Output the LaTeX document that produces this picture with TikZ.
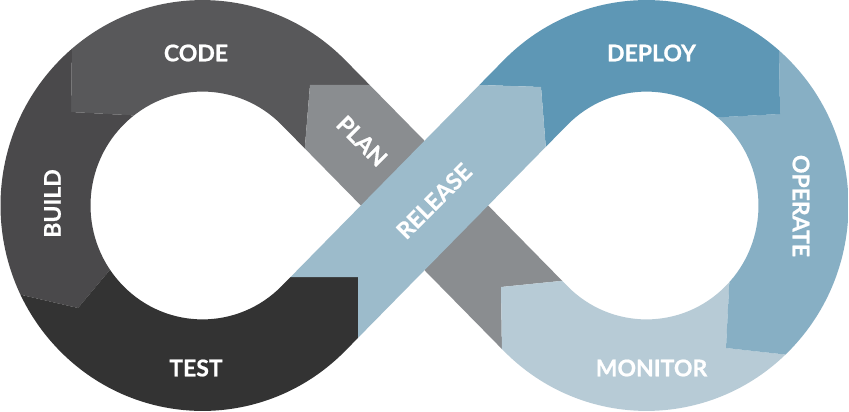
\documentclass[tikz,border=0pt]{standalone}
\usepackage{fontspec}
\setmainfont{Lato}[BoldFeatures={FakeBold=0.8}]
\definecolor{cCode}{HTML}{58585A}
\definecolor{cBuild}{HTML}{4A494B}
\definecolor{cTest}{HTML}{333333}
\definecolor{cPlan}{HTML}{8A8D90}
\definecolor{cRelease}{HTML}{9CBBCB}
\definecolor{cDeploy}{HTML}{5E97B5}
\definecolor{cOperate}{HTML}{87AFC4}
\definecolor{cMonitor}{HTML}{B7CBD6}
\begin{document}
\begin{tikzpicture}[x=1pt,y=-1pt,
  ringL/.style={insert path={(345.34,350.77) arc[start angle=45,end angle=315,x radius=202,y radius=205.43] -- (281.70,124.95) arc[start angle=315,end angle=45,x radius=112,y radius=113.90] -- cycle}},
  ringR/.style={insert path={(503.66,60.23) arc[start angle=-135,end angle=135,x radius=202,y radius=205.43] -- (567.30,286.05) arc[start angle=135,end angle=-135,x radius=112,y radius=113.90] -- cycle}},
  stripP/.style={insert path={(345.34,60.23) -- (567.30,286.05) -- (503.66,350.77) -- (281.70,124.95) -- cycle}},
  stripR/.style={insert path={(345.34,350.77) -- (567.30,124.95) -- (503.66,60.23) -- (281.70,286.05) -- cycle}},
  lbl/.style={text=white, inner sep=0pt, font=\fontsize{23}{23}\selectfont\bfseries}]
\useasboundingbox (0,0) rectangle (849,412);
\fill[white] (0,0) rectangle (849,412);
% chevron boundary points (extended beyond the band)
\coordinate (A1) at (400,85);  \coordinate (A2) at (310,85);  \coordinate (A3) at (303,170);
\coordinate (B1) at (73,-20);  \coordinate (B2) at (71,112);  \coordinate (B3) at (200,119);
\coordinate (C1) at (-30,283); \coordinate (C2) at (78,308);  \coordinate (C3) at (150,222);
\coordinate (D1) at (265,277); \coordinate (D2) at (358,277); \coordinate (D3) at (358,420);
\coordinate (E1) at (450,84);  \coordinate (E2) at (541,87);  \coordinate (E3) at (548,175);
\coordinate (F1) at (778,-20); \coordinate (F2) at (780,114); \coordinate (F3) at (650,121);
\coordinate (G1) at (731,250); \coordinate (G2) at (726,348); \coordinate (G3) at (880,365);
\coordinate (H1) at (610,276); \coordinate (H2) at (501,287); \coordinate (H3) at (503,420);
% CODE
\begin{scope}
  \clip[ringL,stripP];
  \fill[cCode] (A1) -- (A2) -- (A3) -- (B3) -- (B2) -- (B1) -- (400,-20) -- cycle;
\end{scope}
% BUILD
\begin{scope}
  \clip[ringL];
  \fill[cBuild] (B1) -- (B2) -- (B3) -- (C3) -- (C2) -- (C1) -- (-30,-20) -- cycle;
\end{scope}
% TEST
\begin{scope}
  \clip[ringL,stripR];
  \fill[cTest] (C1) -- (C2) -- (C3) -- (D1) -- (D2) -- (D3) -- (-30,420) -- cycle;
\end{scope}
% PLAN
\begin{scope}
  \clip[stripP,ringL];
  \fill[cPlan] (H3) -- (H2) -- (H1) -- (A1) -- (A2) -- (A3) -- (400,290) -- (460,420) -- cycle;
\end{scope}
% MONITOR
\begin{scope}
  \clip[ringR,stripP];
  \fill[cMonitor] (G3) -- (G2) -- (G1) -- (H1) -- (H2) -- (H3) -- (880,420) -- cycle;
\end{scope}
% OPERATE
\begin{scope}
  \clip[ringR];
  \fill[cOperate] (F1) -- (F2) -- (F3) -- (G1) -- (G2) -- (G3) -- (880,-20) -- cycle;
\end{scope}
% DEPLOY
\begin{scope}
  \clip[ringR,stripR];
  \fill[cDeploy] (E1) -- (E2) -- (E3) -- (F3) -- (F2) -- (F1) -- (450,-20) -- cycle;
\end{scope}
% RELEASE (on top at the crossing)
\begin{scope}
  \clip[stripR,ringR];
  \fill[cRelease] (D3) -- (D2) -- (D1) -- (E1) -- (E2) -- (E3) -- (505,205) -- (440,300) -- (400,420) -- cycle;
\end{scope}
% labels
\node[lbl] (code) at (196,53) {CODE};
\node[lbl, rotate=90] (build) at (52.5,203.5) {BUILD};
\node[lbl] (test) at (196,368) {TEST};
\node[lbl, rotate=-45] (plan) at (362,141) {PLAN};
\node[lbl, rotate=45] (release) at (434,201) {RELEASE};
\node[lbl] (deploy) at (651.5,53) {DEPLOY};
\node[lbl, rotate=-90] (operate) at (801,206) {OPERATE};
\node[lbl] (monitor) at (651.5,368) {MONITOR};
\end{tikzpicture}
\end{document}
